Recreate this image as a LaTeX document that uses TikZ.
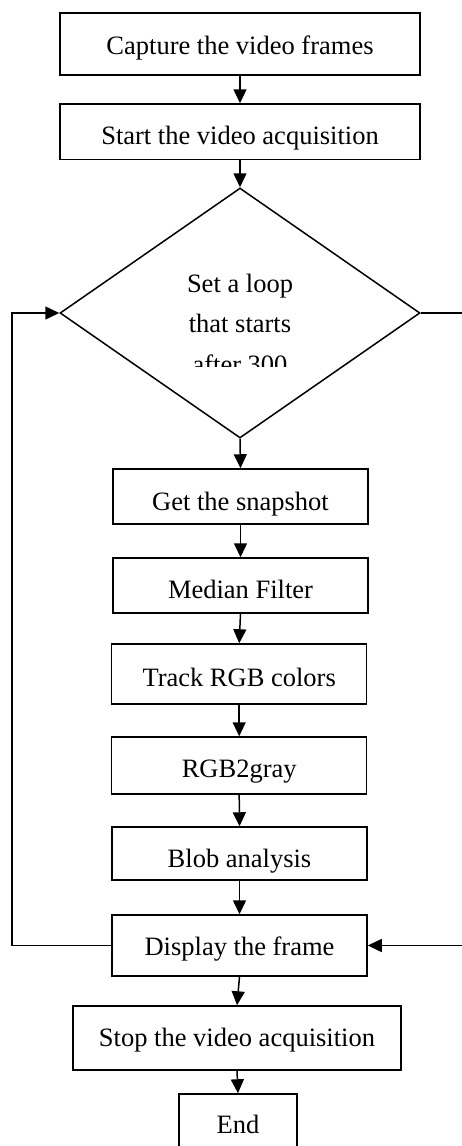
\documentclass[tikz,border=0pt]{standalone}
\usepackage{fontspec}
\setmainfont{Liberation Serif}
\usetikzlibrary{shapes.geometric,arrows.meta}
\tikzset{
  boxnode/.style={draw, line width=1.5pt, inner sep=0pt, minimum width=#1},
  arr/.style={line width=1.5pt, -{Triangle[length=14pt,width=13pt]}},
  every node/.style={font=\fontsize{26.5}{40.5}\selectfont}
}
\begin{document}
\begin{tikzpicture}[x=1pt,y=-1pt]
\clip (0,0) rectangle (462,1146);
\fill[white] (0,0) rectangle (462,1146);
\node[boxnode=360, minimum height=62, text height=20pt, text depth=0pt] (cap) at (240,44) {Capture the video frames};
\node[boxnode=360, minimum height=55.5, text height=26pt, text depth=0pt] (start) at (240,131.75) {Start the video acquisition};
\node[diamond, draw, line width=1.5pt, inner sep=0pt, minimum width=360, minimum height=250] (dia) at (240,313) {};
\begin{scope}
\clip (100,200) rectangle (380,366);
\node[align=center, inner sep=0pt, anchor=north] (diatext) at (240,273.5) {Set a loop\\that starts\\after 300};
\end{scope}
\node[boxnode=255, minimum height=55, text height=27pt, text depth=0pt] (snap) at (240.5,496.5) {Get the snapshot};
\node[boxnode=255, minimum height=55, text height=25pt, text depth=0pt] (med) at (240.5,585.5) {Median Filter};
\node[boxnode=255, minimum height=60, text height=24pt, text depth=0pt] (track) at (239.2,674) {Track RGB colors};
\node[boxnode=255, minimum height=57, text height=23pt, text depth=0pt] (gray) at (239.2,765.5) {RGB2gray};
\node[boxnode=255, minimum height=53, text height=27pt, text depth=0pt] (blob) at (239.5,853.5) {Blob analysis};
\node[boxnode=255, minimum height=61, text height=19pt, text depth=0pt] (disp) at (239.5,945.5) {Display the frame};
\node[boxnode=328, minimum height=64, text height=16pt, text depth=0pt] (stop) at (237,1038) {Stop the video acquisition};
\node[boxnode=118, minimum height=66, text height=12pt, text depth=0pt] (end) at (238,1127) {End};
\draw[arr] (cap) -- (start);
\draw[arr] (start) -- (dia.north);
\draw[arr] (dia.south) -- (snap.north);
\draw[arr] (snap.south) -- (med.north);
\draw[arr] (med.south) -- (track.north);
\draw[arr] (track.south) -- (gray.north);
\draw[arr] (gray.south) -- (blob.north);
\draw[arr] (blob.south) -- (disp.north);
\draw[arr] (disp.south) -- (stop.north);
\draw[arr] (stop.south) -- (end.north);
\coordinate (lc) at (12,945.5);
\draw[arr] (disp.west) -- (lc) |- (dia.west);
\coordinate (r1) at (480,313);
\coordinate (r2) at (480,945.5);
\draw[arr] (dia.east) -- (r1) -- (r2) -- (disp.east);
\end{tikzpicture}
\end{document}
